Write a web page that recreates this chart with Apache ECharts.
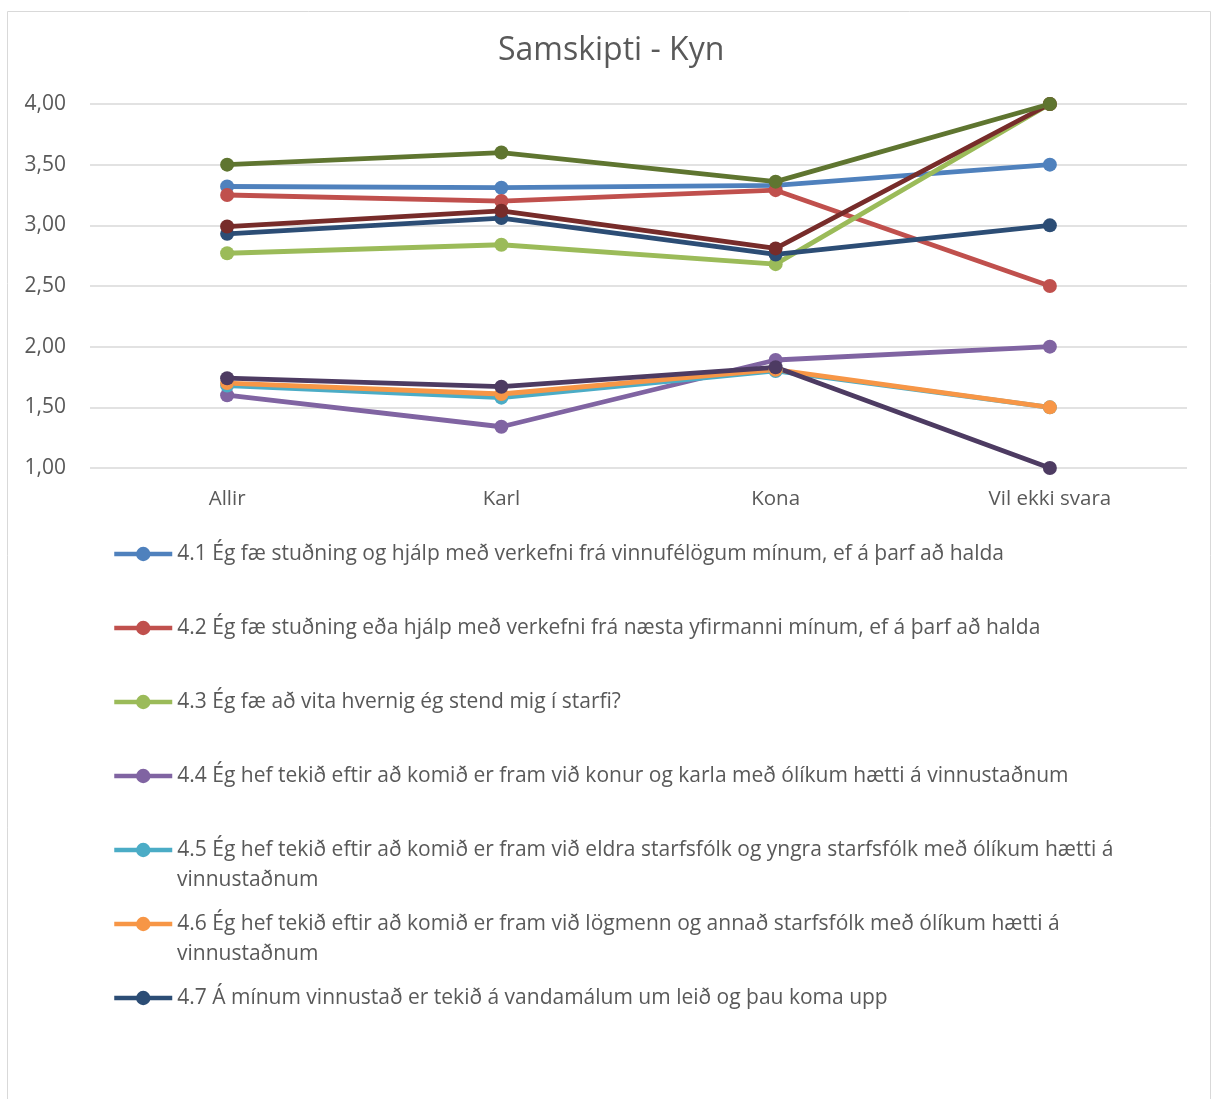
<!DOCTYPE html>
<html><head><meta charset="utf-8">
<script src="https://cdn.jsdelivr.net/npm/echarts@6/dist/echarts.min.js"></script>
<style>html,body{margin:0;padding:0;background:#fff}#c{width:1213px;height:1099px}</style>
</head><body><div id="c"></div>
<script>
const categories = ['Allir', 'Karl', 'Kona', 'Vil ekki svara'];
const yTicks = [1, 1.5, 2, 2.5, 3, 3.5, 4];
const s41 = [3.32, 3.31, 3.33, 3.50];
const s42 = [3.25, 3.20, 3.29, 2.50];
const s43 = [2.77, 2.84, 2.68, 4.00];
const s44 = [1.60, 1.34, 1.89, 2.00];
const s45 = [1.68, 1.58, 1.80, 1.50];
const s46 = [1.70, 1.61, 1.81, 1.50];
const s47 = [2.93, 3.06, 2.76, 3.00];
const s48 = [2.99, 3.12, 2.81, 4.00];
const s49 = [3.50, 3.60, 3.36, 4.00];
const s410 = [1.74, 1.67, 1.83, 1.00];
const names = [
  '4.1 Ég fæ stuðning og hjálp með verkefni frá vinnufélögum mínum, ef á þarf að halda',
  '4.2 Ég fæ stuðning eða hjálp með verkefni frá næsta yfirmanni mínum, ef á þarf að halda',
  '4.3 Ég fæ að vita hvernig ég stend mig í starfi?',
  '4.4 Ég hef tekið eftir að komið er fram við konur og karla með ólíkum hætti á vinnustaðnum',
  '4.5 Ég hef tekið eftir að komið er fram við eldra starfsfólk og yngra starfsfólk með ólíkum hætti á vinnustaðnum',
  '4.6 Ég hef tekið eftir að komið er fram við lögmenn og annað starfsfólk með ólíkum hætti á vinnustaðnum',
  '4.7 Á mínum vinnustað er tekið á vandamálum um leið og þau koma upp',
  '4.8', '4.9', '4.10'
];
// legend lines as wrapped in the original (first line / continuation)
const legendLines = [
  [names[0]],
  [names[1]],
  [names[2]],
  [names[3]],
  ['4.5 Ég hef tekið eftir að komið er fram við eldra starfsfólk og yngra starfsfólk með ólíkum hætti á', 'vinnustaðnum'],
  ['4.6 Ég hef tekið eftir að komið er fram við lögmenn og annað starfsfólk með ólíkum hætti á', 'vinnustaðnum'],
  [names[6]]
];
const values = [s41, s42, s43, s44, s45, s46, s47, s48, s49, s410];
const colors = ['#4F81BD', '#C0504D', '#9BBB59', '#8064A2', '#4BACC6', '#F79646', '#2C4D75', '#772C2A', '#5F7530', '#4D3B62'];
const FONT = 'Open Sans';
const txt = '#595959';
const LEG_Y0 = 554, LEG_STEP = 74, TEXT_X = 176;

const chart = echarts.init(document.getElementById('c'));
const legends = [];
const graphics = [{ type: 'rect', shape: { x: 7.5, y: 11.5, width: 1203, height: 1100 }, style: { fill: 'none', stroke: '#D9D9D9', lineWidth: 1 }, silent: true }];
legendLines.forEach((lines, i) => {
  legends.push({
    data: [names[i]],
    left: 112, top: LEG_Y0 - 15 + LEG_STEP * i, padding: 0,
    itemWidth: 58, itemHeight: 18, itemGap: 0,
    selectedMode: false,
    lineStyle: { width: 4.5 },
    formatter: () => lines[0],
    textStyle: { fontFamily: FONT, fontSize: 21, color: txt, lineHeight: 30 }
  });
  lines.slice(1).forEach((t, k) => {
    graphics.push({
      type: 'text', silent: true,
      style: { text: t, x: TEXT_X + 1, y: LEG_Y0 + LEG_STEP * i + 30 * (k + 1), verticalAlign: 'middle', fontFamily: FONT, fontSize: 21, fill: txt }
    });
  });
});
chart.setOption({
  animation: false,
  color: colors,
  title: { text: 'Samskipti - Kyn', left: 498, top: 35, padding: 0, textStyle: { fontFamily: FONT, fontSize: 32, fontWeight: 'normal', color: txt } },
  graphic: graphics,
  legend: legends,
  grid: { left: 90, right: 26, top: 104, bottom: 631 },
  xAxis: {
    type: 'category', data: categories, boundaryGap: true,
    axisLine: { show: false }, axisTick: { show: false },
    axisLabel: { fontFamily: FONT, fontSize: 20.5, color: txt, margin: 21 }
  },
  yAxis: {
    type: 'value', min: 1, max: 4, interval: 0.5,
    axisLine: { show: false }, axisTick: { show: false },
    splitLine: { lineStyle: { color: '#D9D9D9', width: 1.5 } },
    axisLabel: { fontFamily: FONT, fontSize: 21, color: txt, margin: 24, formatter: v => v.toFixed(2).replace('.', ',') }
  },
  series: values.map((v, i) => ({
    name: names[i], type: 'line', data: v,
    symbol: 'circle', symbolSize: 14,
    lineStyle: { width: 4.8, color: colors[i] },
    itemStyle: { color: colors[i] }
  }))
});
</script></body></html>
